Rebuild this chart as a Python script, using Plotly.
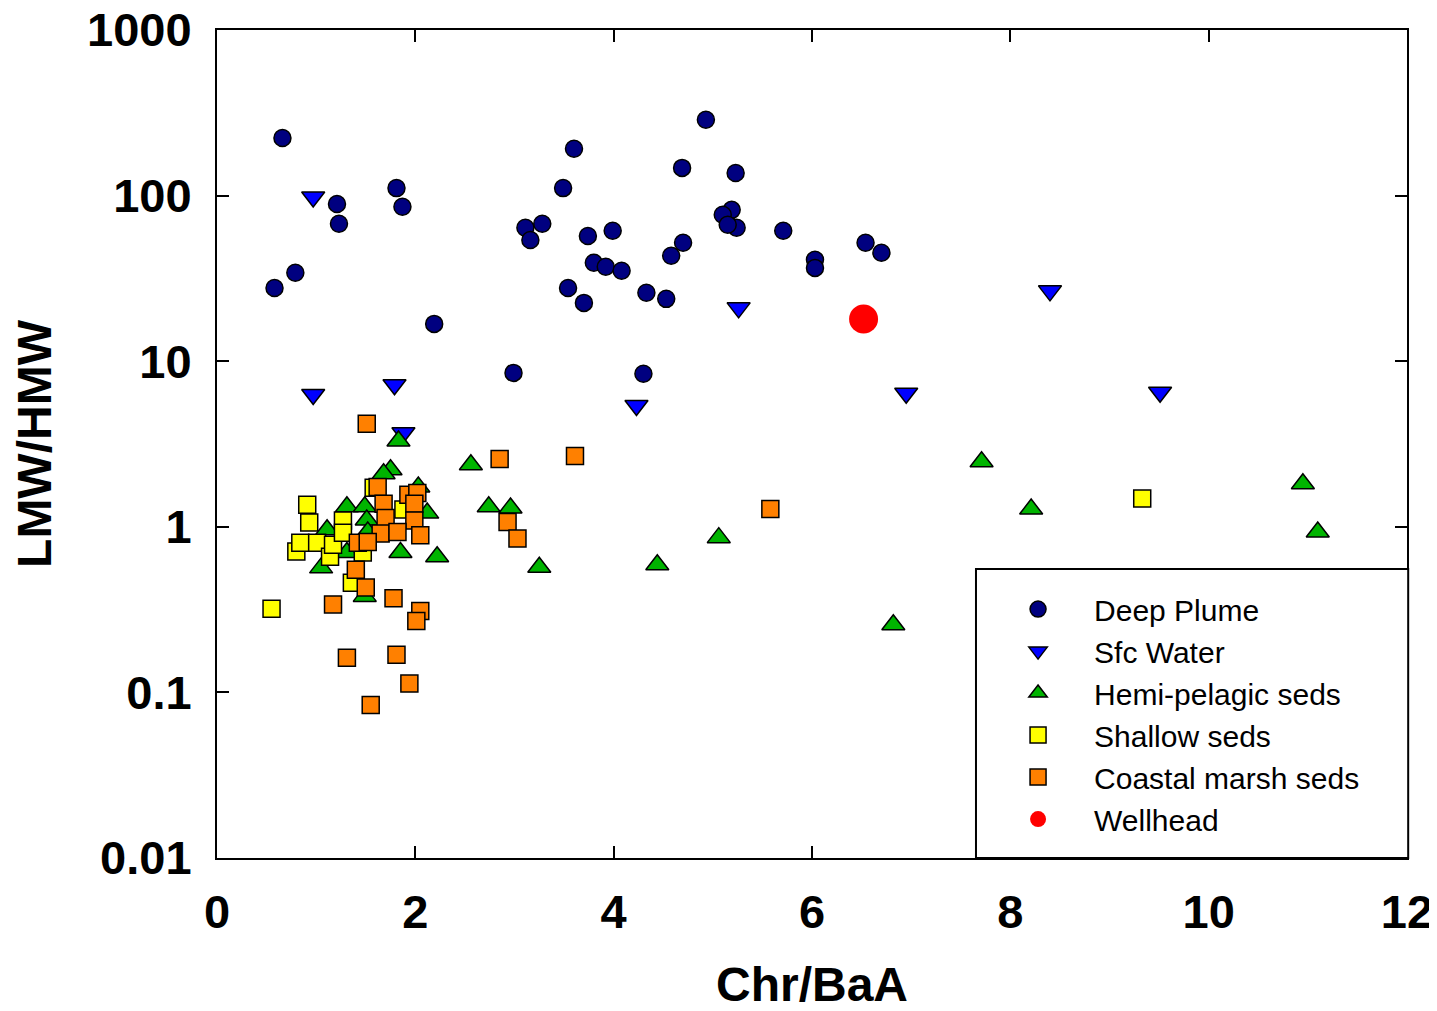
import plotly.graph_objects as go

# Deep Plume
dp_x = [0.66, 0.58, 0.79, 1.21, 1.23, 1.81, 1.87, 2.19, 2.99, 3.60, 3.49, 3.11, 3.16, 3.28, 3.54,
        3.70, 3.74, 3.80, 3.92, 3.99, 4.08, 4.30, 4.33, 4.53, 4.58, 4.69, 4.70, 4.93, 5.23, 5.19,
        5.10, 5.24, 5.15, 5.71, 6.03, 6.03, 6.54, 6.70]
dp_y = [223, 27.7, 34.2, 89, 67.6, 111, 85.6, 16.8, 8.5, 192, 111, 64, 54, 67.6, 27.7,
        22.5, 57, 39.3, 37.2, 61.3, 35.2, 8.4, 25.9, 23.8, 43.3, 147, 51.9, 287, 137, 82,
        76.6, 64, 66.7, 61.3, 41, 36.6, 51.9, 45.2]

# Sfc Water
sw_x = [0.97, 0.97, 1.79, 1.88, 4.23, 5.26, 6.95, 8.40, 9.51]
sw_y = [98, 6.3, 7.2, 3.7, 5.4, 21, 6.4, 26.6, 6.5]

# Hemi-pelagic seds
hp_x = [1.83, 2.56, 2.74, 2.96, 3.25, 2.22, 4.44, 5.06, 6.82, 7.71, 8.21, 10.95, 11.10,
        1.75, 1.68, 1.31, 1.49, 2.03, 2.12, 1.51, 1.52, 1.85, 1.05, 1.49, 1.11, 1.31]
hp_y = [3.3, 2.37, 1.32, 1.30, 0.57, 0.66, 0.59, 0.86, 0.256, 2.47, 1.28, 1.82, 0.93,
        2.21, 2.09, 1.32, 1.32, 1.74, 1.21, 1.10, 0.93, 0.70, 0.565, 0.38, 0.96, 0.70]

# Shallow seds
ss_x = [0.55, 0.91, 0.93, 0.80, 0.84, 1.01, 1.14, 1.17, 1.27, 1.27, 1.47, 1.36, 1.88, 1.58, 9.33]
ss_y = [0.32, 1.36, 1.06, 0.71, 0.80, 0.80, 0.66, 0.78, 1.09, 0.92, 0.70, 0.46, 1.27, 1.72, 1.48]

# Coastal marsh seds
cm_x = [1.51, 2.85, 3.61, 2.93, 3.03, 5.58, 1.62, 1.93, 2.02, 1.68, 1.99, 1.70, 1.99, 1.65,
        1.82, 2.05, 1.42, 1.52, 1.40, 1.50, 1.17, 1.78, 2.05, 2.01, 1.31, 1.81, 1.94, 1.55]
cm_y = [4.19, 2.57, 2.68, 1.07, 0.85, 1.28, 1.74, 1.56, 1.60, 1.38, 1.38, 1.13, 1.09, 0.91,
        0.93, 0.89, 0.80, 0.81, 0.55, 0.43, 0.34, 0.37, 0.31, 0.27, 0.162, 0.169, 0.113, 0.084]

# Wellhead
wh_x = [6.52]
wh_y = [18.0]

y_tickvals = [0.01, 0.1, 1, 10, 100, 1000]
y_ticktext = ["0.01", "0.1", "1", "10", "100", "1000"]
x_tickvals = [0, 2, 4, 6, 8, 10, 12]

FONT = "Liberation Sans, Arial, sans-serif"
outline = dict(color="black", width=1.5)

fig = go.Figure()
fig.add_trace(go.Scatter(x=dp_x, y=dp_y, mode="markers", name="Deep Plume",
                         marker=dict(symbol="circle", size=17, color="#000080", line=outline)))
fig.add_trace(go.Scatter(x=sw_x, y=sw_y, mode="markers", name="Sfc Water",
                         marker=dict(symbol="triangle-down", size=20, color="#0000FF", line=outline)))
fig.add_trace(go.Scatter(x=hp_x, y=hp_y, mode="markers", name="Hemi-pelagic seds",
                         marker=dict(symbol="triangle-up", size=20, color="#00B400", line=outline)))
fig.add_trace(go.Scatter(x=ss_x, y=ss_y, mode="markers", name="Shallow seds",
                         marker=dict(symbol="square", size=17, color="#FFFF00", line=outline)))
fig.add_trace(go.Scatter(x=cm_x, y=cm_y, mode="markers", name="Coastal marsh seds",
                         marker=dict(symbol="square", size=17, color="#FF8000", line=outline)))
fig.add_trace(go.Scatter(x=wh_x, y=wh_y, mode="markers", name="Wellhead",
                         marker=dict(symbol="circle", size=29, color="#FF0000", line=dict(width=0))))

fig.add_shape(type="rect", xref="paper", yref="paper", x0=0.6378, x1=1.001, y0=0, y1=0.349,
              line=dict(color="black", width=2), fillcolor="white", layer="above")

fig.update_layout(
    width=1429, height=1003,
    margin=dict(l=209, r=30, t=22, b=153),
    paper_bgcolor="white", plot_bgcolor="white",
    font=dict(family=FONT, color="black"),
    showlegend=True,
    legend=dict(x=0.6429, y=0.332, xanchor="left", yanchor="top",
                bgcolor="rgba(0,0,0,0)", borderwidth=0,
                font=dict(size=30, family=FONT, color="black"),
                itemwidth=102),
    xaxis=dict(range=[0, 12], tickvals=x_tickvals, ticks="inside", ticklen=12, tickwidth=2,
               tickcolor="black", showline=True, linecolor="black", linewidth=2, mirror="ticks",
               showgrid=False, zeroline=False, automargin=False, ticklabeloverflow="allow",
               tickfont=dict(size=47, family=FONT, weight="bold"), ticklabelstandoff=12,
               title=dict(text="Chr/BaA", font=dict(size=48, family=FONT, weight="bold"), standoff=34)),
    yaxis=dict(type="log", range=[-2, 3], tickvals=y_tickvals, ticktext=y_ticktext,
               ticks="inside", ticklen=12, tickwidth=2, tickcolor="black",
               showline=True, linecolor="black", linewidth=2, mirror="ticks",
               showgrid=False, zeroline=False, automargin=False, ticklabeloverflow="allow",
               tickfont=dict(size=47, family=FONT, weight="bold"), ticklabelstandoff=14,
               title=dict(text="LMW/HMW", font=dict(size=48, family=FONT, weight="bold"), standoff=27)),
)

fig.write_html("out.html")
